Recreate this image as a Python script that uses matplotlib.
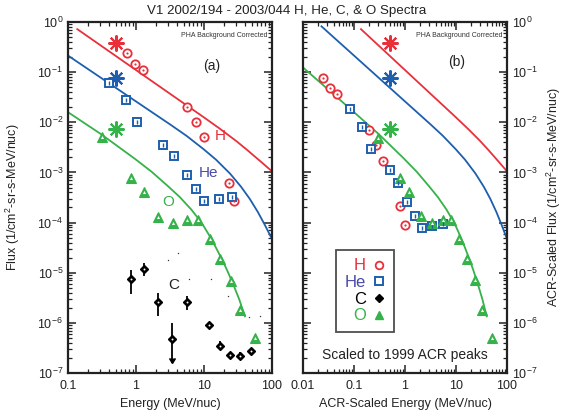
import matplotlib
matplotlib.use("Agg")
import matplotlib.pyplot as plt
from matplotlib.lines import Line2D
from matplotlib.ticker import FixedLocator, LogFormatterMathtext, NullFormatter

plt.rcParams['font.family'] = ['Liberation Sans', 'DejaVu Sans']
plt.rcParams['mathtext.fontset'] = 'custom'
plt.rcParams['mathtext.rm'] = 'Liberation Sans'
plt.rcParams['mathtext.it'] = 'Liberation Sans'

# ---------------- data ----------------
# 1999 ACR peak spectra (curves) and peak points (asterisks)
red_x = [0.137, 10, 17.2, 30, 42.5, 70, 100]
red_y = [0.72, 0.0125, 7.4e-3, 4.2e-3, 2.85e-3, 1.6e-3, 1.05e-3]
blue_x = [0.023, 3.16, 5.5, 9.8, 15, 24.1, 35, 47, 62, 78.7, 100]
blue_y = [0.82, 9.1e-3, 5.4e-3, 2.93e-3, 1.8e-3, 9.5e-4, 5.2e-4, 2.98e-4,
          1.62e-4, 8.9e-5, 4.7e-5]
green_x = [0.01, 0.106, 0.309, 0.957, 1.7, 2.96, 4.4, 6.5, 8.1, 10, 12.2, 15,
           18.2, 22, 27, 33, 40]
green_y = [0.124, 0.0151, 5.75e-3, 1.88e-3, 1.03e-3, 5.3e-4, 3.23e-4, 1.82e-4,
           1.24e-4, 8.3e-5, 5.3e-5, 3.15e-5, 1.9e-5, 1.1e-5, 5.8e-6, 2.93e-6, 1.35e-6]
star_x = [0.5, 0.5, 0.5]
star_y = [0.39, 0.075, 0.0072]

# panel (a): measured spectra
h_x = [0.73, 0.97, 1.28, 5.7, 7.5, 10.1, 23, 27.9]
h_y = [0.236, 0.145, 0.111, 0.0203, 0.0102, 0.0051, 6.2e-4, 2.67e-4]
he_x = [0.405, 0.71, 1.04, 2.5, 3.6, 5.6, 7.5, 10.1, 16.4, 26]
he_y = [0.060, 0.028, 0.0102, 3.6e-3, 2.1e-3, 8.8e-4, 4.6e-4, 2.7e-4, 2.9e-4, 3.3e-4]
o_x = [0.316, 0.84, 1.31, 2.13, 3.47, 5.55, 8.07, 12.2, 17.2, 24.7, 33.9, 56]
o_y = [5.2e-3, 7.6e-4, 4.1e-4, 1.3e-4, 9.8e-5, 1.1e-4, 1.1e-4, 4.8e-5, 1.9e-5,
       6.9e-6, 1.82e-6, 5.1e-7]
c_x = [0.84, 1.33, 2.13, 3.43, 5.55, 12, 17.2, 24, 33.9, 48.5]
c_y = [7.6e-6, 1.18e-5, 2.55e-6, 4.7e-7, 2.55e-6, 9.1e-7, 3.5e-7, 2.25e-7, 2.2e-7, 2.75e-7]
c_lo = [3.8e-6, 8.5e-6, 1.35e-6, 1.6e-7, 1.8e-6, 8.0e-7, 2.9e-7, 1.9e-7, 1.85e-7, 2.35e-7]
c_hi = [1.14e-5, 1.57e-5, 3.9e-6, 1.0e-6, 3.4e-6, 1.05e-6, 4.3e-7, 2.65e-7, 2.6e-7, 3.2e-7]
c_limit = [False, False, False, True, False, False, False, False, False, False]
speck_x = [2.92, 4.1, 6.0, 12.5, 22.3, 29.5, 46.3, 66.7]
speck_y = [1.76e-5, 2.5e-5, 7.6e-6, 7.6e-6, 3.5e-6, 1.6e-6, 1.3e-6, 1.38e-6]

# panel (b): ACR-scaled spectra
hs_x = [0.025, 0.034, 0.046, 0.2, 0.27, 0.366, 0.8, 1.0]
hs_y = [0.078, 0.049, 0.037, 6.9e-3, 3.5e-3, 1.7e-3, 2.1e-4, 9.1e-5]
hes_x = [0.0836, 0.146, 0.216, 0.51, 0.74, 1.11, 1.57, 2.18, 3.33, 5.48]
hes_y = [0.018, 8.2e-3, 3.0e-3, 1.1e-3, 6.2e-4, 2.6e-4, 1.38e-4, 7.8e-5, 8.4e-5, 9.5e-5]
os_x = [0.3, 0.8, 1.21, 2.03, 3.33, 5.48, 7.9, 11.6, 16.2, 23.6, 31.8, 51.5]
os_y = [4.9e-3, 7.8e-4, 4.0e-4, 1.34e-4, 1.0e-4, 1.1e-4, 1.1e-4, 4.8e-5, 1.9e-5,
        7.0e-6, 1.82e-6, 5.1e-7]

xticks_a = [0.1, 1, 10, 100]
xlabels_a = ['0.1', '1', '10', '100']
xticks_b = [0.01, 0.1, 1, 10, 100]
xlabels_b = ['0.01', '0.1', '1', '10', '100']
yticks = [1e-7, 1e-6, 1e-5, 1e-4, 1e-3, 1e-2, 1e-1, 1e0]
species = ['H', 'He', 'C', 'O']

RED = '#e8303a'
BLUE = '#1d5fae'
GREEN = '#35b24a'
HE_TXT = '#4a4aa8'
colors = [RED, BLUE, GREEN]
text_colors = [RED, HE_TXT, 'black', GREEN]
INK = '#222222'

# ---------------- figure ----------------
fig = plt.figure(figsize=(5.65, 4.17), dpi=100)
W, H = 565.0, 417.0
ax1 = fig.add_axes([68 / W, 44 / H, 204 / W, 351 / H])
ax2 = fig.add_axes([303 / W, 44 / H, 204 / W, 351 / H])


def minor_between(majors):
    out = []
    for m in majors[:-1]:
        out.extend(m * k for k in range(2, 10))
    return out


def style_axes(ax, xt, xl):
    ax.set_xscale('log')
    ax.set_yscale('log')
    ax.set_ylim(yticks[0], yticks[-1])
    ax.set_xlim(xt[0], xt[-1])
    ax.set_xticks(xt, xl)
    ax.xaxis.set_minor_locator(FixedLocator(minor_between(xt)))
    ax.xaxis.set_minor_formatter(NullFormatter())
    ax.yaxis.set_major_locator(FixedLocator(yticks))
    ax.yaxis.set_major_formatter(LogFormatterMathtext())
    ax.yaxis.set_minor_locator(FixedLocator(minor_between(yticks)))
    ax.yaxis.set_minor_formatter(NullFormatter())
    ax.tick_params(which='both', direction='in', top=True, right=True, labelsize=9,
                   colors=INK)
    ax.tick_params(axis='x', which='major', pad=5)
    ax.tick_params(which='major', length=6, width=1.1)
    ax.tick_params(which='minor', length=3, width=0.9)
    for s in ax.spines.values():
        s.set_linewidth(1.6)
        s.set_color(INK)


def curves(ax):
    for cx, cy, col in zip([red_x, blue_x, green_x], [red_y, blue_y, green_y], colors):
        ax.plot(cx, cy, color=col, lw=1.3, zorder=2)
    for sx, sy, col in zip(star_x, star_y, colors):
        ax.plot([sx], [sy], marker=(8, 2, 0), ms=11.5, mew=1.5, color=col,
                linestyle='none', zorder=4)


def h_marks(ax, x, y):
    ax.plot(x, y, 'o', ms=6, mfc='white', mec=RED, mew=1.3, zorder=5)
    ax.plot(x, y, 'o', ms=1.6, mfc=RED, mec=RED, mew=0, zorder=6)


def he_marks(ax, x, y):
    ax.plot(x, y, 's', ms=6, mfc='white', mec=BLUE, mew=1.4, zorder=5)
    ax.plot(x, y, '|', ms=3, mec=BLUE, mew=1.0, zorder=6)


def o_marks(ax, x, y):
    ax.plot(x, y, '^', ms=6.5, mfc=GREEN, mec=GREEN, mew=0.8, zorder=5)
    ax.plot(x, y, '^', ms=2.2, mfc='white', mec='white', mew=0, zorder=6)


def c_marks(ax, x, y):
    ax.plot(x, y, 'D', ms=4.2, mfc='black', mec='black', zorder=5)
    ax.plot(x, y, 'o', ms=1.4, mfc='white', mec='white', mew=0, zorder=6)


# ---- panel (a) ----
style_axes(ax1, xticks_a, xlabels_a)
curves(ax1)
h_marks(ax1, h_x, h_y)
he_marks(ax1, he_x, he_y)
o_marks(ax1, o_x, o_y)
ax1.vlines(c_x, c_lo, c_hi, color='black', lw=1.3, zorder=4)
for xx, lo, lim in zip(c_x, c_lo, c_limit):
    if lim:
        ax1.plot([xx], [lo], marker=7, ms=5, color='black', zorder=4)
c_marks(ax1, c_x, c_y)
ax1.plot(speck_x, speck_y, 'o', ms=1.0, color='#333333', mew=0, zorder=3)

ax1.text(0.98, 0.962, 'PHA Background Corrected', transform=ax1.transAxes,
         ha='right', va='center', fontsize=5, color='#333333')
ax1.text(0.706, 0.875, '(a)', transform=ax1.transAxes, ha='center', va='center',
         fontsize=10, color=INK)
ax1.text(0.745, 0.674, 'H', transform=ax1.transAxes, ha='center', va='center',
         fontsize=11, color=RED)
ax1.text(0.688, 0.570, 'He', transform=ax1.transAxes, ha='center', va='center',
         fontsize=11, color=HE_TXT)
ax1.text(0.489, 0.486, 'O', transform=ax1.transAxes, ha='center', va='center',
         fontsize=11, color=GREEN)
ax1.text(0.516, 0.252, 'C', transform=ax1.transAxes, ha='center', va='center',
         fontsize=11, color=INK)
ax1.set_xlabel('Energy (MeV/nuc)', fontsize=9, labelpad=4, color=INK)
ax1.set_ylabel('Flux (1/cm$^2$-sr-s-MeV/nuc)', fontsize=9, labelpad=11, color=INK)

# ---- panel (b) ----
style_axes(ax2, xticks_b, xlabels_b)
ax2.tick_params(labelleft=False, labelright=True)
curves(ax2)
h_marks(ax2, hs_x, hs_y)
he_marks(ax2, hes_x, hes_y)
o_marks(ax2, os_x, os_y)
ax2.text(0.98, 0.962, 'PHA Background Corrected', transform=ax2.transAxes,
         ha='right', va='center', fontsize=5, color='#333333')
ax2.text(0.755, 0.886, '(b)', transform=ax2.transAxes, ha='center', va='center',
         fontsize=10, color=INK)
ax2.text(0.5, 0.05, 'Scaled to 1999 ACR peaks', transform=ax2.transAxes,
         ha='center', va='center', fontsize=10, color=INK)
ax2.set_xlabel('ACR-Scaled Energy (MeV/nuc)', fontsize=9, labelpad=4, color=INK)
ax2.yaxis.set_label_position('right')
ax2.set_ylabel('ACR-Scaled Flux (1/cm$^2$-sr-s-MeV/nuc)', fontsize=9, labelpad=5,
               color=INK, rotation=90)

# legend (label first, then marker)
handles = [
    Line2D([], [], linestyle='none', marker='o', ms=5.5, mfc='white', mec=RED, mew=1.3),
    Line2D([], [], linestyle='none', marker='s', ms=5.5, mfc='white', mec=BLUE, mew=1.4),
    Line2D([], [], linestyle='none', marker='D', ms=4.0, mfc='black', mec='black'),
    Line2D([], [], linestyle='none', marker='^', ms=6.0, mfc=GREEN, mec=GREEN),
]
leg = ax2.legend(handles, species, loc='center', markerfirst=False,
                 bbox_to_anchor=(0.172, 0.123, 0.264, 0.222), fontsize=12,
                 frameon=True, fancybox=False, edgecolor=INK,
                 handlelength=0.8, handletextpad=0.4, labelspacing=0.1,
                 borderpad=0.5)
leg.get_frame().set_linewidth(1.3)
for t, c in zip(leg.get_texts(), text_colors):
    t.set_color(c)

fig.text(0.508, 0.974, 'V1 2002/194 - 2003/044 H, He, C, & O Spectra',
         ha='center', va='center', fontsize=9.6, color=INK)

fig.savefig('out.png', dpi=100)
